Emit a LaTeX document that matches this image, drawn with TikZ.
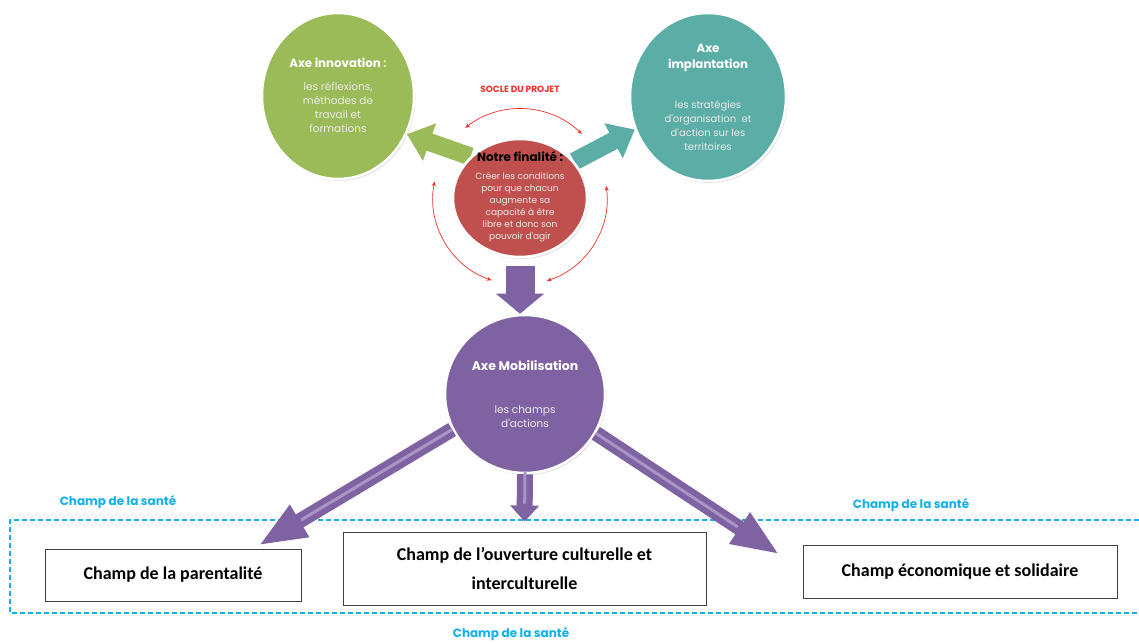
\documentclass[tikz,border=0pt]{standalone}
\usepackage{fontspec}
\setmainfont{Carlito}
\newfontfamily\gothic{Poppins}
\usetikzlibrary{arrows.meta,shapes.geometric,shadows,backgrounds,positioning}

\definecolor{axegreen}{HTML}{9BBB59}
\definecolor{axeteal}{HTML}{5BAEA5}
\definecolor{axered}{HTML}{C0504D}
\definecolor{axepurple}{HTML}{7F62A1}
\definecolor{lightpurple}{HTML}{A994C8}
\definecolor{santeblue}{HTML}{12B0EC}
\definecolor{soclered}{HTML}{F0302A}
\definecolor{colonyellow}{HTML}{F3E7A0}

\tikzset{
  axe/.style={ellipse, draw=white, line width=2.5pt,
    drop shadow={opacity=0.22, shadow xshift=1.5pt, shadow yshift=-2pt}},
  head/.style={font=\gothic\bfseries\fontsize{11.8}{16}\selectfont, text=white, align=center},
  body/.style={font=\gothic\fontsize{10}{14}\selectfont, text=white!92!black, align=center},
  champ/.style={draw=black!75, line width=0.9pt, fill=white, align=center,
    drop shadow={opacity=0.15, shadow xshift=1pt, shadow yshift=-1pt},
    font=\bfseries\fontsize{18}{29}\selectfont},
  sante/.style={font=\gothic\bfseries\fontsize{12}{14}\selectfont, text=santeblue},
  socle/.style={draw=soclered, line width=0.7pt, {Stealth[length=5pt,width=4pt]}-{Stealth[length=5pt,width=4pt]}},
  blockarrow/.style={line width=18pt, -{Triangle[length=24pt,width=38pt]}},
  bigarrow/.style={draw=axepurple, line width=15pt, -{Triangle[length=48pt,width=34pt]},
    postaction={draw=lightpurple, line width=3pt, -, shorten >=50pt}},
}

\begin{document}
\begin{tikzpicture}[x=1pt,y=1pt]
  \useasboundingbox (0,0) rectangle (1139,643);

  % the four axes
  \node[axe, fill=axegreen, minimum width=152pt, minimum height=166pt] (inno) at (338,547) {};
  \node[axe, fill=axeteal, minimum width=156pt, minimum height=168pt] (impl) at (708,546) {};
  \node[axe, fill=axered, minimum width=134pt, minimum height=118pt] (fin) at (520,445) {};
  \node[axe, fill=axepurple, minimum width=160pt, minimum height=158pt] (mob) at (525,249) {};

  \node[head] (innohead) at ([yshift=33pt]inno.center) {Axe innovation \textcolor{colonyellow}{:}};
  \node[body, font=\gothic\fontsize{10.5}{14}\selectfont] (innobody) at ([yshift=-11pt]inno.center)
    {les réflexions,\\méthodes de\\travail et\\formations};
  \node[head] (implhead) at ([yshift=39pt]impl.center) {Axe\\implantation};
  \node[body] (implbody) at ([yshift=-29pt]impl.center) {les stratégies\\d'organisation~ et\\d'action sur les\\territoires};
  \node[head, text=black, font=\gothic\bfseries\fontsize{12}{14}\selectfont] (finhead) at ([yshift=41pt]fin.center) {Notre finalité :};
  \node[body, font=\gothic\fontsize{9}{12}\selectfont] (finbody) at ([yshift=-9pt]fin.center)
    {Créer les conditions\\pour que chacun\\augmente sa\\capacité à être\\libre et donc son\\pouvoir d'agir};
  \node[head, font=\gothic\bfseries\fontsize{12.5}{15}\selectfont] (mobhead) at ([yshift=28pt]mob.center) {Axe Mobilisation};
  \node[body, font=\gothic\fontsize{10.5}{14}\selectfont] (mobbody) at ([yshift=-23pt]mob.center) {les champs\\d'actions};

  \node[font=\gothic\bfseries\fontsize{9}{10}\selectfont, text=soclered] (soclelabel) at (520,554) {SOCLE DU PROJET};

  % arrows leaving the red circle
  \begin{scope}[on background layer]
    \draw[blockarrow, axegreen] (fin.140) -- (inno.331);
    \draw[blockarrow, axeteal] (fin.34) -- (impl.204);
    \draw[axepurple, line width=29pt, -{Triangle[length=20pt,width=47pt]}, shorten <=8pt]
      (fin.south) -- (fin.south |- mob.north);
  \end{scope}

  \draw[socle] ([shift={(128:89pt)}]fin.center) arc[start angle=128, end angle=46, radius=89pt];
  \draw[socle] ([shift={(169:87pt)}]fin.center) arc[start angle=169, end angle=251, radius=87pt];
  \draw[socle] ([shift={(8:87pt)}]fin.center) arc[start angle=8, end angle=-72, radius=87pt];

  % fields of action
  \draw[santeblue, line width=1.2pt, dash pattern=on 5pt off 3pt] (1139,123) -- (10,123) -- (10,30) -- (1139,30);
  \node[sante] (sante1) at (118,141) {Champ de la santé};
  \node[sante] (sante2) at (911,138) {Champ de la santé};
  \node[sante] (sante3) at (511,9) {Champ de la santé};

  \node[champ, minimum width=256pt, minimum height=52pt] (parent) at (173,68) {Champ de la parentalité};
  \node[champ, minimum width=363pt, minimum height=73pt] (cult) at (524.5,74.5)
    {Champ de l’ouverture culturelle et\\interculturelle};
  \node[champ, minimum width=314pt, minimum height=53pt] (eco) at (960,71.5) {Champ économique et solidaire};

  \draw[bigarrow] (mob.206) -- ([xshift=-43pt,yshift=3pt]parent.north east);
  \draw[bigarrow, line width=16pt, -{Triangle[length=16pt,width=28pt]},
    postaction={draw=lightpurple, line width=3pt, -, shorten >=18pt}] (mob.south) -- ([yshift=10pt]cult.north);
  \draw[bigarrow] (mob.331) -- ([xshift=-23pt,yshift=17pt]eco.west);
\end{tikzpicture}
\end{document}
